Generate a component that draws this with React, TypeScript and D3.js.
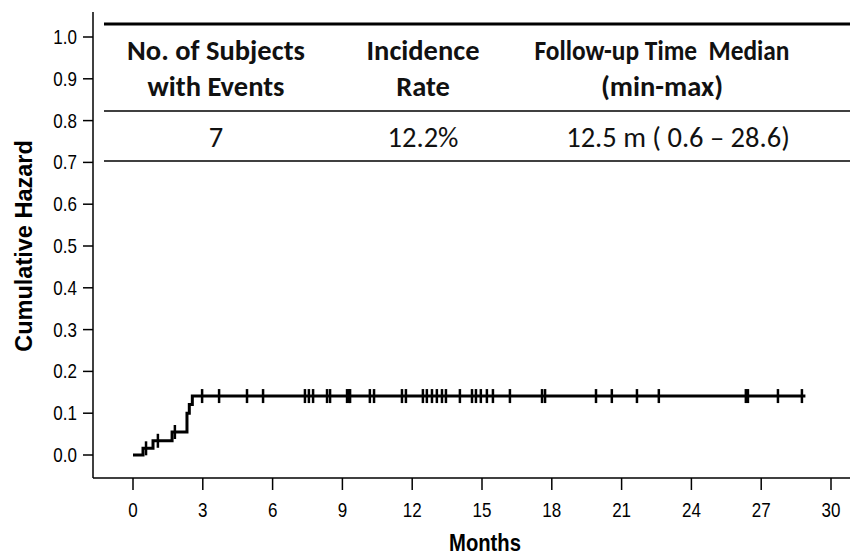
import React from "react";
import * as d3 from "d3";

const W = 862;
const H = 558;

// Event times (months) and cumulative hazard after each event
const eventTimes = [0, 0.43, 0.86, 1.68, 2.32, 2.42, 2.55];
const cumHazard = [0, 0.016, 0.034, 0.055, 0.1, 0.121, 0.141];
const maxFollowUp = 28.9;

// Censored observation times (months)
const censorTimes = [
  0.56, 1.07, 1.8, 2.97, 3.7, 4.9, 5.59, 7.39, 7.56, 7.74, 8.34, 8.47, 9.2,
  9.28, 9.33, 10.18, 10.36, 11.56, 11.73, 12.46, 12.63, 12.85, 13.06, 13.28,
  13.45, 14.05, 14.57, 14.74, 14.95, 15.21, 15.47, 16.2, 17.58, 17.71, 19.9,
  20.58, 21.66, 22.6, 26.34, 26.43, 27.72, 28.75,
];

const xTicks = [0, 3, 6, 9, 12, 15, 18, 21, 24, 27, 30];
const yTicks = [0, 0.1, 0.2, 0.3, 0.4, 0.5, 0.6, 0.7, 0.8, 0.9, 1.0];

const tableHeader1 = ["No. of Subjects", "Incidence", "Follow-up Time  Median"];
const tableHeader2 = ["with Events", "Rate", "(min-max)"];
const tableValues = ["7", "12.2%", "12.5 m ( 0.6 \u2013 28.6)"];

const xTitle = "Months";
const yTitle = "Cumulative Hazard";

export default function App() {
  const x = d3.scaleLinear().domain([0, 30]).range([133, 831]);
  const y = d3.scaleLinear().domain([0, 1]).range([455, 37]);

  const stepPts: [number, number][] = eventTimes.map((t, i) => [t, cumHazard[i]]);
  stepPts.push([maxFollowUp, cumHazard[cumHazard.length - 1]]);
  const line = d3
    .line<[number, number]>()
    .x((d) => x(d[0]))
    .y((d) => y(d[1]))
    .curve(d3.curveStepAfter);

  const hazardAt = (t: number) => {
    let h = 0;
    eventTimes.forEach((et, i) => {
      if (et <= t) h = cumHazard[i];
    });
    return h;
  };

  const axisFont = "'Liberation Sans', Arial, sans-serif";
  const tableFont = "Carlito, 'Liberation Sans', Arial, sans-serif";
  const colX = [216, 423, 662];
  const valX = [216, 423, 678];
  const sx = 0.85;

  return (
    <svg
      width={W}
      height={H}
      style={{ position: "absolute", left: 0, top: 0, background: "#fff" }}
    >
      <rect x={0} y={0} width={W} height={H} fill="#fff" />
      {/* axes */}
      <line x1={93} y1={12} x2={93} y2={478} stroke="#000" strokeWidth={1.5} />
      <line x1={93} y1={478} x2={850} y2={478} stroke="#000" strokeWidth={1.5} />
      {yTicks.map((t) => (
        <g key={"y" + t}>
          <line x1={83} x2={93} y1={y(t)} y2={y(t)} stroke="#000" strokeWidth={1.5} />
          <g transform={`translate(77,${y(t) + 7}) scale(${sx},1)`}>
            <text
              x={0}
              y={0}
              textAnchor="end"
              fontFamily={axisFont}
              fontSize={20}
              fill="#000"
            >
              {t.toFixed(1)}
            </text>
          </g>
        </g>
      ))}
      {xTicks.map((t) => (
        <g key={"x" + t}>
          <line x1={x(t)} x2={x(t)} y1={478} y2={490} stroke="#000" strokeWidth={1.5} />
          <g transform={`translate(${x(t)},517) scale(${sx},1)`}>
            <text
              x={0}
              y={0}
              textAnchor="middle"
              fontFamily={axisFont}
              fontSize={20}
              fill="#000"
            >
              {t}
            </text>
          </g>
        </g>
      ))}
      <g transform={`translate(485,551) scale(0.88,1)`}>
        <text
          x={0}
          y={0}
          textAnchor="middle"
          fontFamily={axisFont}
          fontWeight="bold"
          fontSize={23}
          fill="#000"
        >
          {xTitle}
        </text>
      </g>
      <text
        transform={`translate(32,246) rotate(-90)`}
        textAnchor="middle"
        fontFamily={axisFont}
        fontWeight="bold"
        fontSize={23.5}
        fill="#000"
      >
        {yTitle}
      </text>

      {/* curve */}
      <path d={line(stepPts) || ""} fill="none" stroke="#000" strokeWidth={3} />
      {censorTimes.map((t, i) => (
        <line
          key={"c" + i}
          x1={x(t)}
          x2={x(t)}
          y1={y(hazardAt(t)) - 7}
          y2={y(hazardAt(t)) + 7}
          stroke="#000"
          strokeWidth={2.5}
        />
      ))}

      {/* table */}
      <line x1={104} x2={850} y1={24} y2={24} stroke="#000" strokeWidth={3} />
      <line x1={104} x2={850} y1={111} y2={111} stroke="#000" strokeWidth={1.5} />
      <line x1={104} x2={850} y1={161} y2={161} stroke="#000" strokeWidth={1.5} />
      {tableHeader1.map((s, i) => (
        <text
          key={"h1" + i}
          x={colX[i]}
          y={60}
          textAnchor="middle"
          fontFamily={tableFont}
          fontWeight="bold"
          fontSize={28.5}
          fill="#111"
          xmlSpace="preserve"
          {...(i === 2 ? { textLength: 255, lengthAdjust: "spacingAndGlyphs" } : {})}
        >
          {s}
        </text>
      ))}
      {tableHeader2.map((s, i) => (
        <text
          key={"h2" + i}
          x={colX[i]}
          y={96}
          textAnchor="middle"
          fontFamily={tableFont}
          fontWeight="bold"
          fontSize={28.5}
          fill="#111"
        >
          {s}
        </text>
      ))}
      {tableValues.map((s, i) => (
        <text
          key={"v" + i}
          x={valX[i]}
          y={147}
          textAnchor="middle"
          fontFamily={tableFont}
          fontSize={28.5}
          fill="#111"
        >
          {s}
        </text>
      ))}
    </svg>
  );
}
